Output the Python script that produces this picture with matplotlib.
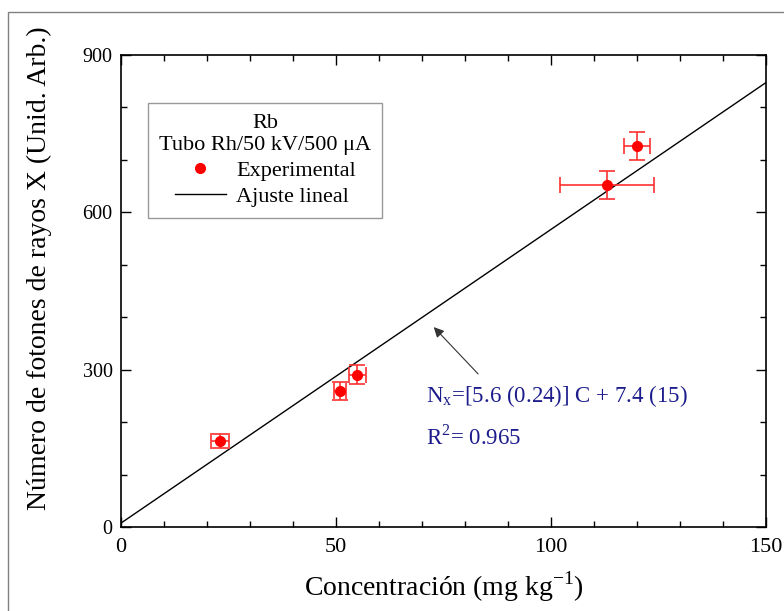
import matplotlib
matplotlib.use("Agg")
import matplotlib.pyplot as plt
from matplotlib.patches import Rectangle
from matplotlib.lines import Line2D
from matplotlib.ticker import MultipleLocator

plt.rcParams['font.family'] = ['Liberation Serif', 'DejaVu Serif']
plt.rcParams['mathtext.fontset'] = 'custom'
plt.rcParams['mathtext.rm'] = 'Liberation Serif'

# data
conc = [23.0, 51.0, 55.0, 113.0, 120.0]
counts = [164, 259, 290, 652, 727]
conc_err = [2.1, 1.4, 2.0, 11.0, 3.1]
counts_err = [13, 17, 18, 26, 27]

slope = 5.6
intercept = 7.4
fit_x = [0, 150]
fit_y = [slope * v + intercept for v in fit_x]

fig = plt.figure(figsize=(7.84, 6.11), dpi=100)
ax = fig.add_axes([0.1543, 0.1375, 0.8227, 0.7725])

# outer grey frame of the original export
frame = Rectangle((0.0105, -0.2), 1.2, 1.18, transform=fig.transFigure,
                  fill=False, edgecolor='#808080', lw=1.0, clip_on=False)
fig.patches.append(frame)

ax.errorbar(conc, counts, xerr=conc_err, yerr=counts_err, fmt='o',
            color='red', ecolor='#ff3030', elinewidth=1.2, capsize=5.5,
            capthick=1.2, markersize=7, zorder=3)
ax.plot(fit_x, fit_y, color='black', lw=1.0, zorder=2)

ax.set_xlim(0, 150)
ax.set_ylim(0, 900)
ax.xaxis.set_major_locator(MultipleLocator(50))
ax.xaxis.set_minor_locator(MultipleLocator(10))
ax.yaxis.set_major_locator(MultipleLocator(300))
ax.yaxis.set_minor_locator(MultipleLocator(100))
ax.tick_params(which='both', direction='in', top=True, right=True, width=1.0)
ax.tick_params(which='major', length=7)
ax.tick_params(which='minor', length=4)
ax.tick_params(axis='x', labelsize=16, pad=8)
ax.tick_params(axis='y', labelsize=14.5, pad=6)
for s in ax.spines.values():
    s.set_linewidth(1.2)

ax.set_xlabel('Concentración (mg kg$^{\\mathrm{-1}}$)', fontsize=20)
ax.xaxis.set_label_coords(0.5, -0.09)
ax.set_ylabel('Número de fotones de rayos X (Unid. Arb.)', fontsize=20)
ax.yaxis.set_label_coords(-0.107, 0.549)

handles = [Line2D([], [], marker='o', color='red', ls='none', markersize=7),
           Line2D([], [], color='black', lw=1.0)]
leg = ax.legend(handles, ['Experimental', 'Ajuste lineal'],
                title='Rb\nTubo Rh/50 kV/500 μA', loc='upper left',
                bbox_to_anchor=(0.042, 0.898), borderaxespad=0,
                fontsize=16, title_fontsize=16, fancybox=False,
                edgecolor='#808080', handlelength=2.3, numpoints=1,
                borderpad=0.5, labelspacing=0.25, handletextpad=0.45)
leg.get_title().set_multialignment('center')
leg.get_frame().set_linewidth(1.0)

navy = '#1c1c8c'
ax.annotate('', xy=(72.3, 385), xytext=(83.5, 288),
            arrowprops=dict(arrowstyle='-|>', color='#333333', lw=0.8,
                            mutation_scale=15))
ax.text(71.0, 238, r'N$_\mathrm{x}$=[5.6 (0.24)] C + 7.4 (15)', fontsize=16.5,
        color=navy)
ax.text(71.0, 158, r'R$^\mathrm{2}$= 0.965', fontsize=16.5, color=navy)

fig.savefig('out.png', dpi=100)
